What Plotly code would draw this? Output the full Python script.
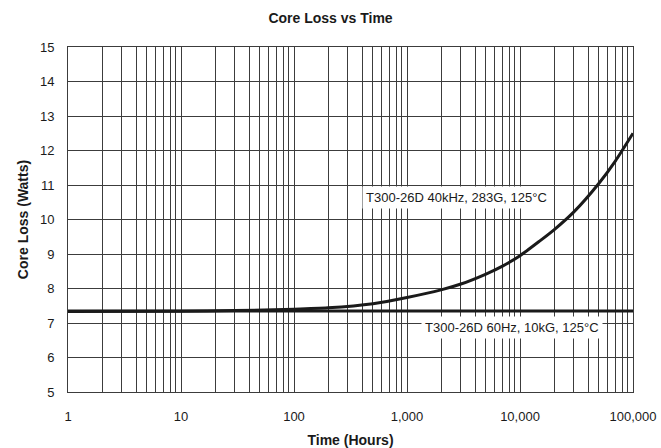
import plotly.graph_objects as go

# time in hours and core loss in watts
hours = [1, 10, 30, 100, 200, 500, 1000, 2000, 3000, 5000, 7000,
         10000, 15000, 20000, 30000, 50000, 70000, 100000]
loss_40khz = [7.33, 7.34, 7.36, 7.40, 7.44, 7.56, 7.74, 7.96, 8.13, 8.42, 8.65,
              8.95, 9.38, 9.70, 10.22, 11.05, 11.70, 12.5]

hours_60hz = [1, 100000]
loss_60hz = [7.35, 7.35]

decades = [1, 10, 100, 1000, 10000, 100000]
decade_labels = ["1", "10", "100", "1,000", "10,000", "100,000"]
y_ticks = list(range(5, 16))

label_40khz = "T300-26D 40kHz, 283G, 125°C"
label_60hz = "T300-26D 60Hz, 10kG, 125°C"

# every 1..9 multiple gets a grid line, only decades get a label
x_tickvals, x_ticktext = [], []
for d, lab in zip(decades, decade_labels):
    x_tickvals.append(d)
    x_ticktext.append(lab)
    if d < 100000:
        for m in range(2, 10):
            x_tickvals.append(d * m)
            x_ticktext.append("")

font = "Liberation Sans, Arial, sans-serif"
ink = "#1a1a1a"
grid = "#3c3c3c"

fig = go.Figure()
fig.add_trace(go.Scatter(x=hours_60hz, y=loss_60hz, mode="lines",
                         line=dict(color=ink, width=3), showlegend=False))
fig.add_trace(go.Scatter(x=hours, y=loss_40khz, mode="lines",
                         line=dict(color=ink, width=3, shape="spline", smoothing=0.6),
                         showlegend=False))

fig.add_annotation(x=3.44, y=10.65, xref="x", yref="y", text=label_40khz,
                   showarrow=False, bgcolor="white", borderpad=3,
                   font=dict(family=font, size=13, color=ink))
fig.add_annotation(x=3.93, y=6.86, xref="x", yref="y", text=label_60hz,
                   showarrow=False, bgcolor="white", borderpad=3,
                   font=dict(family=font, size=13, color=ink))

fig.update_layout(
    width=661, height=448,
    margin=dict(l=68, r=28, t=47, b=56),
    paper_bgcolor="white", plot_bgcolor="white",
    font=dict(family=font, color=ink),
    title=dict(text="<b>Core Loss vs Time</b>", x=0.5, xanchor="center",
               y=0.96, yanchor="middle", font=dict(size=14, color=ink)),
)
fig.update_xaxes(
    type="log", range=[0, 5], automargin=False,
    tickmode="array", tickvals=x_tickvals, ticktext=x_ticktext,
    showgrid=True, gridcolor=grid, gridwidth=1,
    showline=True, linecolor=grid, linewidth=1, mirror=True,
    ticks="", ticklabelstandoff=12, zeroline=False,
    tickfont=dict(size=13, color=ink),
    title=dict(text="<b>Time (Hours)</b>", font=dict(size=14, color=ink), standoff=12),
)
fig.update_yaxes(
    range=[5, 15], tickmode="array", tickvals=y_ticks, automargin=False,
    showgrid=True, gridcolor=grid, gridwidth=1,
    showline=True, linecolor=grid, linewidth=1, mirror=True,
    ticks="", ticklabelstandoff=10, zeroline=False,
    tickfont=dict(size=13, color=ink),
    title=dict(text="<b>Core Loss (Watts)</b>", font=dict(size=14, color=ink), standoff=8),
)

# drop the page's default body margin so the figure sits at the window corner
fig.write_html("out.html", config={"displayModeBar": False},
               post_script="document.body.style.margin='0';")
